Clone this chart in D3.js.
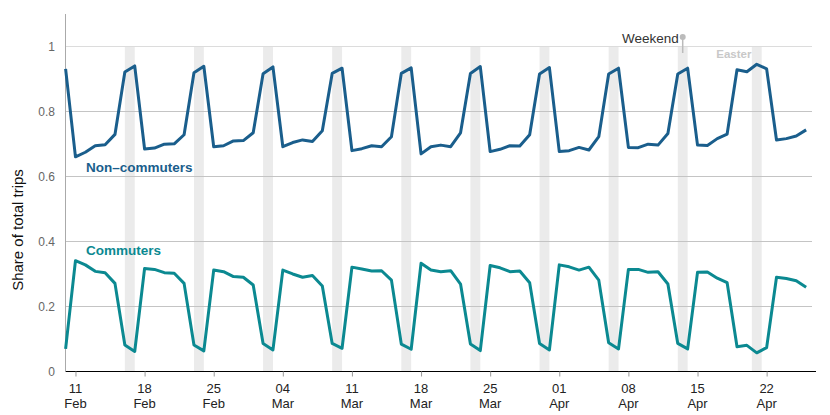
<!DOCTYPE html>
<html lang="en">
<head>
<meta charset="UTF-8">
<title>Commuters vs non-commuters</title>
<script src="https://cdn.jsdelivr.net/npm/d3@7"></script>
<style>
    body { margin: 0; padding: 0; background: #fff; font-family: 'Liberation Sans', Arial, sans-serif; }
    svg { display: block; }
</style>
</head>
<body>
<svg id="chart" width="830" height="415"></svg>
<script>
    // daily share of trips, 10 Feb - 26 Apr 2019
    const startDay = new Date(2019, 1, 10);
    const endDay = new Date(2019, 3, 27);
    const days = d3.timeDay.range(startDay, endDay);

    const nonCommuters = [
        0.931, 0.660, 0.674, 0.694, 0.697, 0.729, 0.921, 0.940, 0.684, 0.687, 0.699, 0.700, 0.728, 0.919, 0.939, 0.691, 0.694, 0.709, 0.710,
        0.734, 0.916, 0.937, 0.691, 0.704, 0.712, 0.707, 0.740, 0.917, 0.933, 0.679, 0.685, 0.694, 0.691, 0.722, 0.917, 0.934,
        0.669, 0.691, 0.696, 0.691, 0.734, 0.917, 0.938, 0.676, 0.683, 0.694, 0.693, 0.728, 0.915, 0.935,
        0.676, 0.679, 0.689, 0.681, 0.722, 0.915, 0.933, 0.689, 0.688, 0.699, 0.696, 0.732, 0.915, 0.933,
        0.696, 0.695, 0.716, 0.730, 0.928, 0.922, 0.945, 0.931, 0.712, 0.716, 0.724, 0.743
    ];
    const commuters = [
        0.068, 0.340, 0.327, 0.307, 0.303, 0.270, 0.080, 0.060, 0.316, 0.313, 0.303, 0.301, 0.270, 0.080, 0.062, 0.311, 0.306, 0.291, 0.289,
        0.265, 0.085, 0.065, 0.311, 0.299, 0.289, 0.294, 0.262, 0.085, 0.070, 0.320, 0.314, 0.308, 0.309, 0.280, 0.083, 0.067,
        0.332, 0.311, 0.306, 0.309, 0.268, 0.083, 0.063, 0.325, 0.318, 0.306, 0.308, 0.272, 0.085, 0.065,
        0.327, 0.321, 0.311, 0.320, 0.280, 0.087, 0.068, 0.313, 0.313, 0.304, 0.306, 0.268, 0.085, 0.068,
        0.304, 0.305, 0.286, 0.272, 0.075, 0.079, 0.056, 0.072, 0.289, 0.285, 0.278, 0.258
    ];

    // shaded bands [from, to]
    const weekends = [
        ["2019-02-16 00", "2019-02-17 00"], ["2019-02-23 00", "2019-02-24 00"],
        ["2019-03-02 00", "2019-03-03 00"], ["2019-03-09 00", "2019-03-10 00"],
        ["2019-03-16 00", "2019-03-17 00"], ["2019-03-23 00", "2019-03-24 00"],
        ["2019-03-30 00", "2019-03-31 00"], ["2019-04-06 00", "2019-04-07 00"],
        ["2019-04-13 00", "2019-04-14 00"], ["2019-04-20 12", "2019-04-21 12"]
    ];
    const yTicks = [0, 0.2, 0.4, 0.6, 0.8, 1];

    const svg = d3.select("#chart");
    const parse = d3.timeParse("%Y-%m-%d %H");

    const x = d3.scaleTime().domain([startDay, endDay]).range([65.6, 816]);
    const y = d3.scaleLinear().domain([0, 1.1]).range([371, 14]);

    // weekend bands
    svg.append("g")
        .selectAll("rect")
        .data(weekends)
        .enter().append("rect")
        .attr("x", d => x(parse(d[0])))
        .attr("width", d => x(parse(d[1])) - x(parse(d[0])))
        .attr("y", y(1))
        .attr("height", y(0) - y(1))
        .attr("fill", "#ebebeb");

    // gridlines
    svg.append("g")
        .selectAll("line")
        .data(yTicks.filter(t => t > 0))
        .enter().append("line")
        .attr("x1", x.range()[0])
        .attr("x2", 812)
        .attr("y1", d => Math.round(y(d)) + 0.5)
        .attr("y2", d => Math.round(y(d)) + 0.5)
        .attr("stroke", d => d === 1 ? "#dcdcdc" : "#c4c4c4")
        .attr("stroke-width", 1);

    // y axis
    svg.append("line")
        .attr("x1", 65.5).attr("x2", 65.5)
        .attr("y1", y(1.1)).attr("y2", y(0))
        .attr("stroke", "#aaa");

    svg.append("g")
        .selectAll("text")
        .data(yTicks)
        .enter().append("text")
        .attr("x", 55)
        .attr("y", d => y(d) + 4.5)
        .attr("text-anchor", "end")
        .attr("font-size", 12)
        .attr("fill", "#666")
        .text(d => d3.format("~g")(d));

    svg.append("text")
        .attr("transform", "translate(23,230) rotate(-90)")
        .attr("text-anchor", "middle")
        .attr("font-size", 15)
        .attr("fill", "#111")
        .text("Share of total trips");

    // x axis
    const xAxis = svg.append("g")
        .attr("transform", `translate(0,${Math.round(y(0)) + 0.5})`)
        .call(d3.axisBottom(x).ticks(d3.timeMonday.every(1)).tickSize(5).tickFormat(""));
    xAxis.select(".domain").attr("stroke", "#000").attr("d", `M${x.range()[0]},0H${x.range()[1]}`);
    xAxis.selectAll(".tick line").attr("stroke", "#999");

    const mondays = d3.timeMonday.range(startDay, endDay);
    const tickLabels = svg.append("g")
        .selectAll("text")
        .data(mondays)
        .enter().append("text")
        .attr("text-anchor", "middle")
        .attr("font-size", 13)
        .attr("fill", "#222");
    tickLabels.append("tspan")
        .attr("x", d => x(d))
        .attr("y", 393)
        .text(d => d3.timeFormat("%d")(d));
    tickLabels.append("tspan")
        .attr("x", d => x(d))
        .attr("y", 408)
        .text(d => d3.timeFormat("%b")(d));

    // series lines
    const line = d3.line()
        .x((d, i) => x(days[i]))
        .y(d => y(d));

    svg.append("path")
        .datum(nonCommuters)
        .attr("fill", "none")
        .attr("stroke", "#1a5e8c")
        .attr("stroke-width", 3)
        .attr("stroke-linejoin", "round")
        .attr("d", line);

    svg.append("path")
        .datum(commuters)
        .attr("fill", "none")
        .attr("stroke", "#0b8991")
        .attr("stroke-width", 3)
        .attr("stroke-linejoin", "round")
        .attr("d", line);

    svg.append("text")
        .attr("x", 86).attr("y", 172)
        .attr("font-size", 13.5).attr("font-weight", "bold")
        .attr("fill", "#1a5e8c")
        .text("Non\u2013commuters");

    svg.append("text")
        .attr("x", 86).attr("y", 255)
        .attr("font-size", 13.5).attr("font-weight", "bold")
        .attr("fill", "#0b8991")
        .text("Commuters");

    // annotations
    const wk = weekends[8];
    const wkX = (x(parse(wk[0])) + x(parse(wk[1]))) / 2;
    svg.append("line")
        .attr("x1", wkX).attr("x2", wkX)
        .attr("y1", 37).attr("y2", 53)
        .attr("stroke", "#bbb").attr("stroke-width", 1.5);
    svg.append("circle")
        .attr("cx", wkX).attr("cy", 37).attr("r", 3)
        .attr("fill", "#bbb");
    svg.append("text")
        .attr("x", wkX - 4).attr("y", 43)
        .attr("text-anchor", "end")
        .attr("font-size", 13.5)
        .attr("fill", "#333")
        .text("Weekend");

    const easter = weekends[9];
    svg.append("text")
        .attr("x", x(parse(easter[0])) - 18)
        .attr("y", 58)
        .attr("text-anchor", "middle")
        .attr("font-size", 11.5).attr("font-weight", "bold")
        .attr("fill", "#c8c8c8")
        .text("Easter");
</script>
</body>
</html>
